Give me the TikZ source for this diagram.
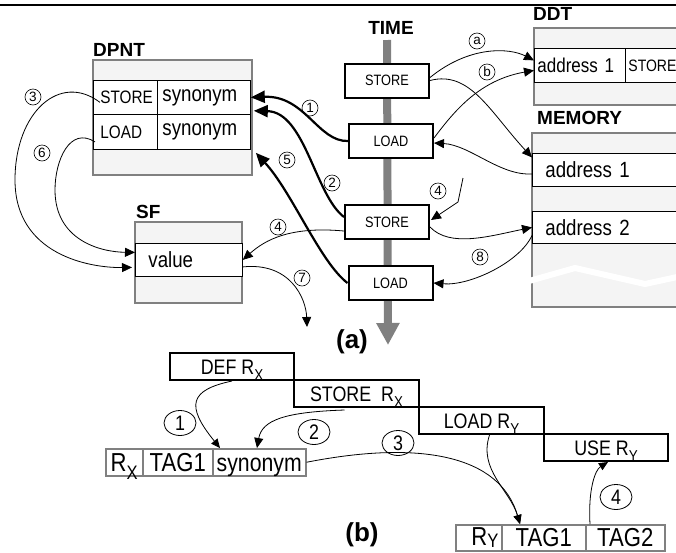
\documentclass[tikz,border=0pt]{standalone}
\usepackage{fontspec}
\setmainfont{Liberation Sans}
\newfontfamily\narrowsf[FakeStretch=0.85]{Liberation Sans}
\usepackage{graphicx}
\usetikzlibrary{arrows.meta, shapes.geometric, positioning, calc}
\definecolor{boxgray}{HTML}{808080}
\definecolor{tblfill}{HTML}{F4F4F4}
\newcommand\regsub[1]{\raisebox{-0.3em}{\scalebox{0.75}{#1}}}
\tikzset{
	sz/.style={font=\narrowsf\fontsize{#1pt}{#1pt}\selectfont},
	tbl/.style={draw=boxgray, line width=2.5pt, fill=tblfill},
	ttl/.style={font=\bfseries\fontsize{19pt}{19pt}\selectfont, inner sep=0pt, anchor=base west},
	cell/.style={draw, fill=white, line width=0.8pt, anchor=north west, inner ysep=0pt, align=left},
	tbox/.style={draw, fill=white, line width=2pt, minimum width=84pt, minimum height=34pt, inner sep=0pt, sz=15},
	ibox/.style={draw, line width=2pt, minimum width=124pt, minimum height=27pt, inner sep=0pt, anchor=north west, sz=21, text height=15pt, text depth=0pt},
	rcell/.style={draw=boxgray, line width=1.5pt, minimum height=27pt, inner sep=0pt, anchor=north west, sz=26, text height=18pt, text depth=0pt},
	num/.style={circle, draw, line width=0.6pt, minimum size=16pt, inner sep=0pt, font=\fontsize{13.5pt}{13.5pt}\selectfont},
	bnum/.style={ellipse, draw, line width=0.8pt, minimum width=32pt, minimum height=25pt, inner sep=0pt, sz=21},
	arr/.style={-{Triangle[length=10pt,width=9pt]}, line width=0.8pt},
	tarr/.style={-{Triangle[length=14pt,width=12pt]}, line width=2.2pt},
	sarr/.style={-{Triangle[length=9pt,width=8pt]}, line width=0.8pt}
}

\begin{document}
\begin{tikzpicture}[x=1pt, y=-1pt]
	\useasboundingbox (0,0) rectangle (676,552);
	\draw[line width=2.3pt] (0,5) -- (676,5);

	%DPNT
	\filldraw[tbl] (93,60) rectangle (252,175);
	\node[ttl] (dpnt) at (93,56) {DPNT};
	\node[cell, sz=18, text width=50pt, inner xsep=7pt, minimum height=34pt] (dps) at (93,80) {STORE};
	\node[cell, sz=22, text width=83pt, inner xsep=5pt, minimum height=34pt] (dpss) at (157,80) {synonym};
	\node[cell, sz=18, text width=50pt, inner xsep=7pt, minimum height=35pt] (dpl) at (93,114) {LOAD};
	\node[cell, sz=22, text width=83pt, inner xsep=5pt, minimum height=35pt] (dpls) at (157,114) {synonym};

	%SF
	\filldraw[tbl] (135,222) rectangle (242,303);
	\node[ttl] (sf) at (136,218) {SF};
	\node[cell, sz=22, text width=81pt, inner xsep=13pt, minimum height=33pt] (sfv) at (135,243) {value};

	%DDT
	\filldraw[tbl] (534,28) rectangle (700,105);
	\node[ttl] (ddt) at (533,20) {DDT};
	\node[cell, sz=20, text width=85pt, inner xsep=3pt, minimum height=34pt] (ddta) at (534,48) {address 1};
	\node[cell, sz=16.5, text width=70pt, inner xsep=3pt, minimum height=34pt] (ddts) at (625,48) {STORE};

	%MEMORY
	\filldraw[tbl] (532,133) rectangle (700,307);
	\node[ttl] (mem) at (537,124) {MEMORY};
	\node[cell, sz=22, text width=142pt, inner xsep=13pt, minimum height=33pt] (ma1) at (532,153) {address 1};
	\node[cell, sz=22, text width=142pt, inner xsep=13pt, minimum height=32pt] (ma2) at (532,211) {address 2};
	\draw[white, line width=6pt] (529,281) -- (575,268) -- (645,284) -- (700,272);

	%time axis
	\node[font=\bfseries\fontsize{19pt}{19pt}\selectfont] (time) at (391,28) {TIME};
	\coordinate (tend) at (388,345);
	\draw[boxgray, line width=8pt, -{Triangle[length=22pt,width=22pt]}] (387,40) -- (tend);
	\node[tbox] (ts1) at (387,80.5) {STORE};
	\node[tbox] (tl1) at (391,141) {LOAD};
	\node[tbox] (ts2) at (387,222) {STORE};
	\node[tbox] (tl2) at (390.5,283) {LOAD};

	%arrows to DPNT
	\draw[tarr] (tl1.west) .. controls (318,142) and (305,95) .. (dpss.east);
	\draw[tarr] ($(ts2.west)+(0,-5)$) .. controls (315,195) and (305,112) .. ($(dpss.south east)+(3,-4)$);
	\draw[tarr] (tl2.west) .. controls (320,262) and (292,192) .. ($(dpls.south east)+(5,3)$);

	%arrows to SF
	\draw[arr] ($(ts2.west)+(0,9)$) .. controls (290,226) and (265,240) .. (sfv.east);
	\coordinate (c7) at (307,327);
	\draw[arr] ($(sfv.east)+(0,7)$) .. controls (290,262) and (306,298) .. (c7);
	\draw[arr] ($(dps.west)+(7,5)$) .. controls (60,72) and (15,112) .. (15,180)
		.. controls (15,255) and (90,268) .. ($(sfv.west)+(-3,7.5)$);
	\draw[arr] ($(dpl.west)+(2,10)$) .. controls (70,126) and (55,160) .. (55,190)
		.. controls (55,240) and (100,252) .. ($(sfv.west)+(0,-7.5)$);

	%arrows to DDT and MEMORY
	\draw[arr] ($(ts1.east)+(0,-3)$) .. controls (470,45) and (510,48) .. ($(ddta.west)+(0,-5)$);
	\draw[arr] ($(tl1.east)+(0,-3)$) .. controls (455,110) and (480,80) .. ($(ddta.west)+(0,5)$);
	\draw[arr] (ts1.east) .. controls (470,70) and (490,112) .. ($(ma1.west)+(0,-12.5)$);
	\draw[arr] ($(ma1.west)+(0,4)$) .. controls (500,176) and (470,145) .. ($(tl1.east)+(0,2)$);
	\coordinate (c4) at (463,178);
	\draw[arr] (c4) -- (458,202) -- ($(ts2.east)+(1,-2)$);
	\draw[arr] ($(ts2.east)+(0,5)$) .. controls (450,248) and (490,236) .. (ma2.west);
	\draw[arr] ($(ma2.west)+(0,8)$) .. controls (520,262) and (470,286) .. (tl2.east);

	%numbers
	\node[num] (n3) at (33,97) {3};
	\node[num] (n6) at (42,153) {6};
	\node[num] (n1) at (310,108) {1};
	\node[num] (n2) at (332,183) {2};
	\node[num] (n5) at (287,160) {5};
	\node[num] (n4) at (278,227) {4};
	\node[num] (n7) at (302,278) {7};
	\node[num] (na) at (477,41) {a};
	\node[num] (nb) at (487,72) {b};
	\node[num] (n4b) at (438,191) {4};
	\node[num] (n8) at (480,257) {8};

	\node[font=\bfseries\fontsize{26pt}{26pt}\selectfont] (la) at (352,342) {(a)};

	%instructions
	\node[ibox] (def) at (169,352) {DEF R\regsub{X}};
	\node[ibox, minimum width=125pt] (storex) at (293,379) {STORE~~R\regsub{X}};
	\node[ibox, minimum width=125pt] (loady) at (418,406) {LOAD R\regsub{Y}};
	\node[ibox] (usey) at (543,433) {USE R\regsub{Y}};

	%register tags
	\node[rcell, minimum width=37pt] (rx) at (105,448) {R\regsub{X}};
	\node[rcell, minimum width=70pt] (tag1x) at (142,448) {TAG1};
	\node[rcell, sz=25, minimum width=93pt] (syn) at (212,448) {synonym};
	\node[rcell, minimum width=46pt, minimum height=26pt, text depth=3pt] (ry) at (455,524) {~~R\raisebox{-0.1em}{\scalebox{0.75}{Y}}};
	\node[rcell, minimum width=84pt, minimum height=26pt] (tag1y) at (501,524) {TAG1};
	\node[rcell, minimum width=79pt, minimum height=26pt] (tag2y) at (585,524) {TAG2};

	\draw[sarr] (def.south) .. controls (190,390) and (185,405) .. ($(syn.north west)+(8,0)$);
	\draw[arr] ($(storex.south)+(-12,2)$) .. controls (285,412) and (262,420) .. ($(syn.north west)+(45,0)$);
	\draw[sarr] (syn.east) .. controls (420,440) and (500,455) .. ($(tag1y.north west)+(19,0)$);
	\draw[sarr] ($(loady.south)+(8,0)$) .. controls (478,470) and (510,490) .. ($(tag1y.north west)+(19,0)$);
	\draw[sarr] ($(tag2y.north west)+(5,0)$) .. controls (588,490) and (595,470) .. ($(usey.south)+(2,0)$);

	\node[bnum] (b1) at (180,423) {1};
	\node[bnum] (b2) at (314,432) {2};
	\node[bnum] (b3) at (398,443) {3};
	\node[bnum] (b4) at (616,497) {4};

	\node[font=\bfseries\fontsize{26pt}{26pt}\selectfont] (lb) at (362,535) {(b)};
\end{tikzpicture}
\end{document}
